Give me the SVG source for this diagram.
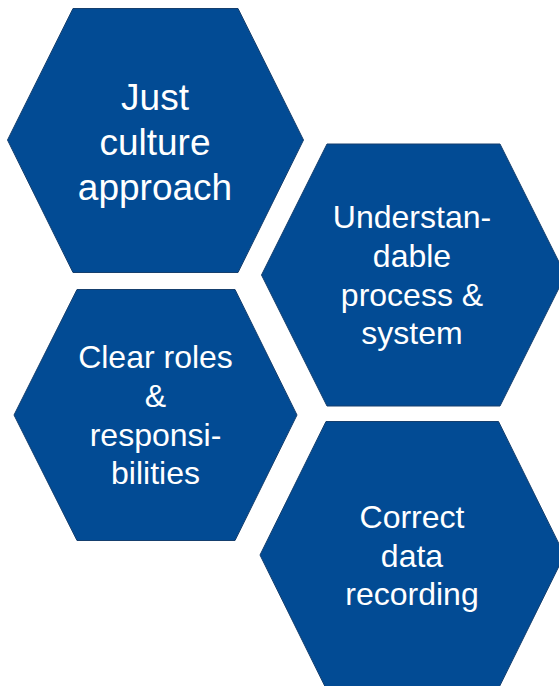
<svg xmlns="http://www.w3.org/2000/svg" width="559" height="686" viewBox="0 0 559 686">
<style>
.hex{fill:#024B94;stroke:#153F6E;stroke-width:1}
.t{fill:#FFFFFF;font-family:"Liberation Sans",Arial,sans-serif;text-anchor:middle}
.big{font-size:37px}
.sm{font-size:32px}
</style>
<rect width="559" height="686" fill="#FFFFFF"/>
<g id="connectors"/>
<g id="node-just-culture">
<polygon class="hex" points="73,8.5 238,8.5 303.5,140 238,272.5 73,272.5 7.5,140"/>
<text class="t big" x="155" y="110">Just</text>
<text class="t big" x="155" y="155">culture</text>
<text class="t big" x="155" y="199.5">approach</text>
</g>
<g id="node-understandable">
<polygon class="hex" points="327,144 500,144 565.5,275 500,406 327,406 261.5,275"/>
<text class="t sm" x="412" y="227.5">Understan-</text>
<text class="t sm" x="412" y="266.5">dable</text>
<text class="t sm" x="412" y="305.5">process &amp;</text>
<text class="t sm" x="412" y="344">system</text>
</g>
<g id="node-clear-roles">
<polygon class="hex" points="77,289.5 235,289.5 297,415 235,540.5 77,540.5 14,415"/>
<text class="t sm" x="155.5" y="367.5">Clear roles</text>
<text class="t sm" x="155.5" y="406.5">&amp;</text>
<text class="t sm" x="155.5" y="445.5">responsi-</text>
<text class="t sm" x="155.5" y="484">bilities</text>
</g>
<g id="node-correct-data">
<polygon class="hex" points="326,421.5 498.5,421.5 564.5,555 498.5,688.5 326,688.5 260,555"/>
<text class="t sm" x="412" y="527.5">Correct</text>
<text class="t sm" x="412" y="566.5">data</text>
<text class="t sm" x="412" y="605">recording</text>
</g>
</svg>
